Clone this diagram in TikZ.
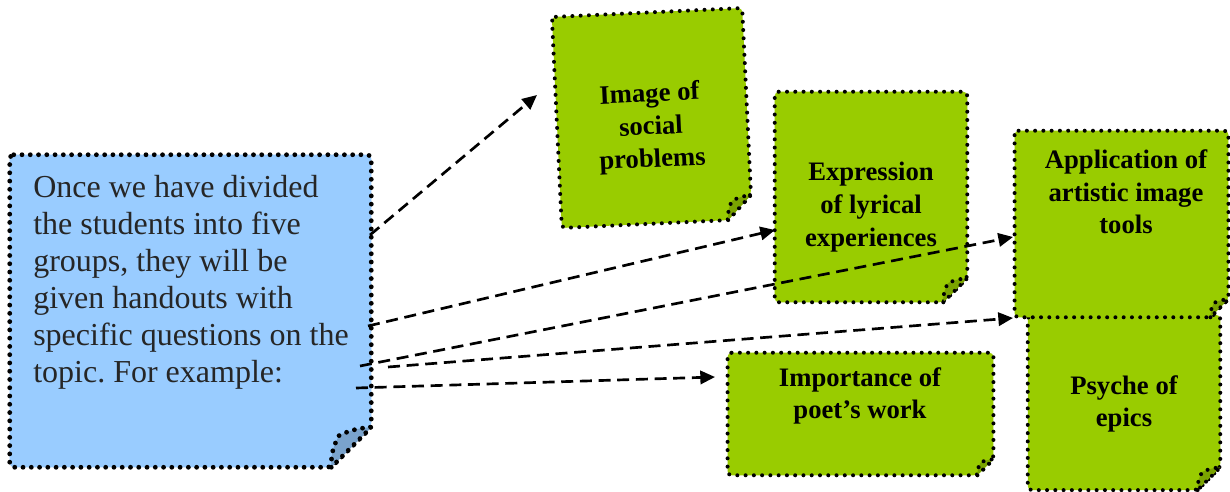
\documentclass[tikz,border=0pt]{standalone}
\usepackage{fontspec}
\setmainfont{Liberation Serif}
\usetikzlibrary{calc,arrows.meta}

\definecolor{noteblue}{HTML}{99CCFF}
\definecolor{notegreen}{HTML}{99CC00}

\tikzset{
  box/.style={inner sep=0pt, draw=none},
  dots/.style={line width=#1, dash pattern=on 0pt off 6.2pt, line cap=round},
  link/.style={line width=2pt, dash pattern=on 9pt off 5pt, -{Triangle[length=11pt,width=10pt]}},
  head/.style={font=\fontsize{20pt}{24.5pt}\selectfont\bfseries, align=center, inner sep=0pt},
}

% name, corner size, fill colour, dot size
\newcommand{\foldnote}[4]{%
  \coordinate (#1-p) at ($(#1.south east)!#2!(#1.south west)$);
  \coordinate (#1-q) at ($(#1.south east)!#2!(#1.north east)$);
  \coordinate (#1-c) at ($(#1-p)+(#1-q)-(#1.south east)$);
  \coordinate (#1-r) at ($(#1-c)!0.2!(#1.south east)$);
  \filldraw[fill=#3, rounded corners=3pt, dots=#4] (#1.north west) -- (#1.north east) -- (#1-q) -- (#1-p) -- (#1.south west) -- cycle;
  \filldraw[fill=#3!80!black, dots=#4] (#1-p) to[bend left=15] (#1-r) to[bend left=10] (#1-q) -- cycle;
}

\frenchspacing
\begin{document}
\begin{tikzpicture}[x=0.75pt,y=-0.75pt]
\useasboundingbox (0,0) rectangle (1230,492);

% the notes
\node[box, minimum width=270.75pt, minimum height=234pt] (task) at (190.5,311) {};
\node[box, minimum width=142.5pt, minimum height=158pt, rotate=2.7] (img) at (652,118) {};
\node[box, minimum width=144pt, minimum height=157.5pt] (lyric) at (871,197) {};
\node[box, minimum width=144pt, minimum height=131pt] (epic) at (1124,402.5) {};
\node[box, minimum width=160pt, minimum height=139.5pt] (tool) at (1121.5,224) {};
\node[box, minimum width=199pt, minimum height=91.5pt] (poet) at (860.5,414) {};

\foldnote{task}{30pt}{noteblue}{3.6pt}
\foldnote{img}{18pt}{notegreen}{3pt}
\foldnote{lyric}{18pt}{notegreen}{3pt}
\foldnote{epic}{17pt}{notegreen}{3pt}
\foldnote{tool}{13.5pt}{notegreen}{3pt}
\foldnote{poet}{12pt}{notegreen}{3pt}

% texts
\node[anchor=north west, inner sep=0pt, align=left, text=black!85,
  font=\fontsize{24pt}{27.75pt}\selectfont] (task-txt) at (33,175)
  {Once we have divided\\the students into five\\groups, they will be\\given handouts with\\specific questions on the\\topic. For example:};
\node[head, rotate=2.7] (img-txt) at (651,128) {Image of\\social\\problems};
\node[head] (lyric-txt) at (871,207) {Expression\\of lyrical\\experiences};
\node[head] (tool-txt) at (1126,192) {Application of\\artistic image\\tools};
\node[head] (epic-txt) at (1124,404) {Psyche of\\epics};
\node[head] (poet-txt) at (860,396) {Importance of\\poet’s work};

% arrows
\coordinate (s1) at (370,235);
\coordinate (s2) at (368,326);
\coordinate (s3) at (360,366);
\coordinate (s4) at (388,367);
\coordinate (s5) at (356,388);
\coordinate (e1) at (537,95);
\coordinate (e2) at (775,230);
\coordinate (e3) at (1013,237);
\coordinate (e4) at (1013,318);
\coordinate (e5) at (715,377);
\draw[link] (s1) -- (e1);
\draw[link] (s2) -- (e2);
\draw[link] (s3) -- (e3);
\draw[link] (s4) -- (e4);
\draw[link] (s5) -- (e5);
\end{tikzpicture}
\end{document}
